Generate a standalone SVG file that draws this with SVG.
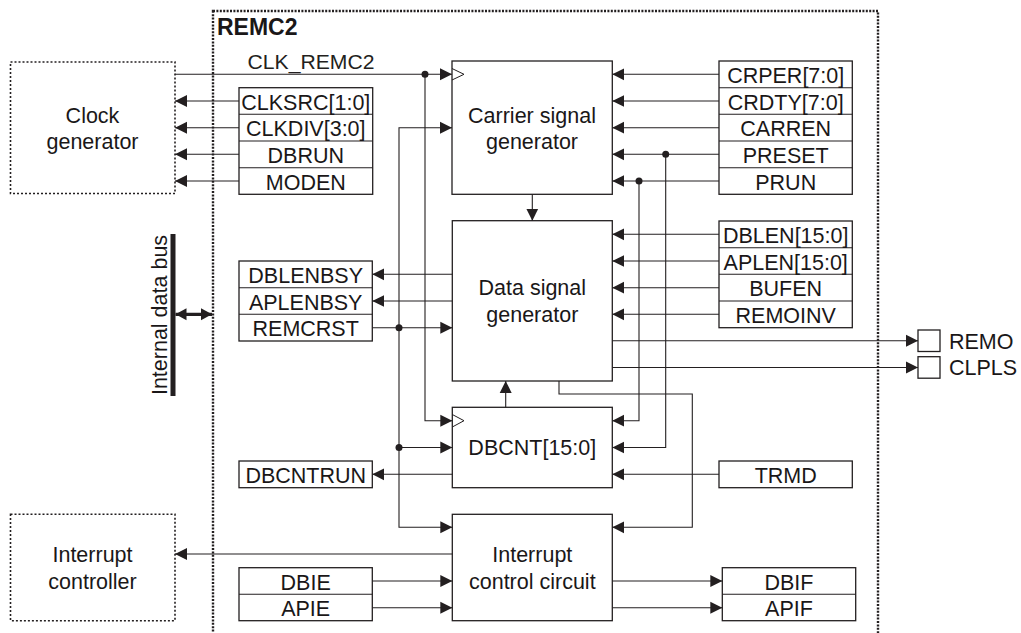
<svg xmlns="http://www.w3.org/2000/svg" width="1021" height="633" viewBox="0 0 1021 633">
<defs>
<style>
.bx{fill:#fff;stroke:#231f20;stroke-width:1.3}
.sep{stroke:#231f20;stroke-width:1.1}
.dot2{fill:none;stroke:#231f20;stroke-width:1.6;stroke-dasharray:2 2}
.dotm{fill:none;stroke:#231f20;stroke-width:2.4;stroke-dasharray:2 1.4}
.t{font-family:"Liberation Sans",Arial,sans-serif;font-size:21.5px;fill:#1a1718;text-anchor:middle}
.ln{fill:none;stroke:#231f20;stroke-width:1.1}
.ar{marker-end:url(#ah)}
.jn{fill:#231f20}
.ck{fill:none;stroke:#231f20;stroke-width:1}
</style>
<marker id="ah" markerUnits="userSpaceOnUse" markerWidth="13" markerHeight="13" refX="12" refY="6" orient="auto" viewBox="0 0 13 12">
<path d="M0,0 L12,6 L0,12 z" fill="#231f20"/>
</marker>
<marker id="ahb" markerUnits="userSpaceOnUse" markerWidth="13" markerHeight="13" refX="11" refY="6" orient="auto-start-reverse" viewBox="0 0 13 12">
<path d="M0,0 L11,6 L0,12 z" fill="#231f20"/>
</marker>
</defs>
<rect width="1021" height="633" fill="#fff"/>

<g id="remc2">
<rect class="dotm" x="213" y="11" width="665" height="650"/>
<text x="217" y="35" style="font-family:'Liberation Sans',Arial,sans-serif;font-size:23px;font-weight:bold;fill:#1a1718">REMC2</text>
</g>

<g id="clock-generator">
<rect class="dot2" x="10.5" y="62" width="164.5" height="131.5"/>
<text class="t" x="92.5" y="123">Clock</text>
<text class="t" x="92.5" y="148.7">generator</text>
</g>

<g id="interrupt-controller">
<rect class="dot2" x="10.5" y="514.3" width="164.5" height="106.4"/>
<text class="t" x="92.5" y="562">Interrupt</text>
<text class="t" x="92.5" y="588.5">controller</text>
</g>

<g id="internal-data-bus">
<rect x="170.5" y="234" width="5" height="162" fill="#231f20"/>
<text class="t" transform="translate(166.5,315) rotate(-90)" x="0" y="0">Internal data bus</text>
</g>

<g id="clk-regs">
<rect class="bx" x="239" y="87.7" width="133.7" height="106.6"/>
<line class="sep" x1="239" y1="114.3" x2="372.7" y2="114.3"/>
<line class="sep" x1="239" y1="141" x2="372.7" y2="141"/>
<line class="sep" x1="239" y1="167.7" x2="372.7" y2="167.7"/>
<text class="t" x="305.8" y="109.5">CLKSRC[1:0]</text>
<text class="t" x="305.8" y="136.2">CLKDIV[3:0]</text>
<text class="t" x="305.8" y="162.8">DBRUN</text>
<text class="t" x="305.8" y="189.5">MODEN</text>
</g>

<g id="carrier-regs">
<rect class="bx" x="719" y="61" width="133.3" height="133.3"/>
<line class="sep" x1="719" y1="87.7" x2="852.3" y2="87.7"/>
<line class="sep" x1="719" y1="114.3" x2="852.3" y2="114.3"/>
<line class="sep" x1="719" y1="141" x2="852.3" y2="141"/>
<line class="sep" x1="719" y1="167.7" x2="852.3" y2="167.7"/>
<text class="t" x="785.7" y="82.8">CRPER[7:0]</text>
<text class="t" x="785.7" y="109.5">CRDTY[7:0]</text>
<text class="t" x="785.7" y="136.2">CARREN</text>
<text class="t" x="785.7" y="162.8">PRESET</text>
<text class="t" x="785.7" y="189.5">PRUN</text>
</g>

<g id="carrier-signal-generator">
<rect class="bx" x="452" y="61" width="160.3" height="133.3"/>
<path class="ck" d="M452,68.5 L464,74.3 L452,80"/>
<text class="t" x="532" y="123">Carrier signal</text>
<text class="t" x="532" y="148.7">generator</text>
</g>

<g id="data-regs">
<rect class="bx" x="719" y="221" width="133.3" height="106.7"/>
<line class="sep" x1="719" y1="247.7" x2="852.3" y2="247.7"/>
<line class="sep" x1="719" y1="274.3" x2="852.3" y2="274.3"/>
<line class="sep" x1="719" y1="301" x2="852.3" y2="301"/>
<text class="t" x="785.7" y="242.8">DBLEN[15:0]</text>
<text class="t" x="785.7" y="269.5">APLEN[15:0]</text>
<text class="t" x="785.7" y="296.2">BUFEN</text>
<text class="t" x="785.7" y="322.8">REMOINV</text>
</g>

<g id="status-regs">
<rect class="bx" x="239" y="261" width="133.3" height="80"/>
<line class="sep" x1="239" y1="287.7" x2="372.3" y2="287.7"/>
<line class="sep" x1="239" y1="314.3" x2="372.3" y2="314.3"/>
<text class="t" x="305.7" y="282.8">DBLENBSY</text>
<text class="t" x="305.7" y="309.5">APLENBSY</text>
<text class="t" x="305.7" y="336.2">REMCRST</text>
</g>

<g id="data-signal-generator">
<rect class="bx" x="452.3" y="220.7" width="160" height="160.3"/>
<text class="t" x="532.3" y="295.3">Data signal</text>
<text class="t" x="532.3" y="321.7">generator</text>
</g>

<g id="remo">
<rect class="bx" x="918" y="330" width="22" height="21.5"/>
<text class="t" x="949" y="348.5" style="text-anchor:start">REMO</text>
</g>
<g id="clpls">
<rect class="bx" x="918" y="356.7" width="22" height="21.5"/>
<text class="t" x="949" y="375.3" style="text-anchor:start">CLPLS</text>
</g>

<g id="dbcnt">
<rect class="bx" x="452.3" y="407.3" width="160" height="80.4"/>
<path class="ck" d="M452.3,414.5 L464,420.7 L452.3,427"/>
<text class="t" x="532.3" y="455.3">DBCNT[15:0]</text>
</g>

<g id="dbcntrun">
<rect class="bx" x="239" y="461" width="133.3" height="26.7"/>
<text class="t" x="305.7" y="482.8">DBCNTRUN</text>
</g>

<g id="trmd">
<rect class="bx" x="719" y="461" width="133.3" height="26.7"/>
<text class="t" x="785.7" y="482.8">TRMD</text>
</g>

<g id="interrupt-control-circuit">
<rect class="bx" x="452.3" y="514.3" width="160" height="106.4"/>
<text class="t" x="532.3" y="562">Interrupt</text>
<text class="t" x="532.3" y="588.5">control circuit</text>
</g>

<g id="ie-regs">
<rect class="bx" x="239" y="567.7" width="133.3" height="53"/>
<line class="sep" x1="239" y1="594.3" x2="372.3" y2="594.3"/>
<text class="t" x="305.7" y="589.5">DBIE</text>
<text class="t" x="305.7" y="616.2">APIE</text>
</g>

<g id="if-regs">
<rect class="bx" x="722.3" y="567.7" width="133.4" height="53"/>
<line class="sep" x1="722.3" y1="594.3" x2="855.7" y2="594.3"/>
<text class="t" x="789" y="589.5">DBIF</text>
<text class="t" x="789" y="616.2">APIF</text>
</g>

<g id="connectors">
<path class="ln ar" d="M175,74.3 H452"/>
<text x="247.5" y="69" textLength="127" lengthAdjust="spacingAndGlyphs" style="font-family:'Liberation Sans',Arial,sans-serif;font-size:19.5px;fill:#231f20">CLK_REMC2</text>
<path class="ln ar" d="M425,74.3 V420.7 H452.3"/>
<path class="ln ar" d="M239,101 H175"/>
<path class="ln ar" d="M239,127.7 H175"/>
<path class="ln ar" d="M239,154.3 H175"/>
<path class="ln ar" d="M239,181 H175"/>
<path class="ln ar" d="M719,74.3 H612.3"/>
<path class="ln ar" d="M719,101 H612.3"/>
<path class="ln ar" d="M719,127.7 H612.3"/>
<path class="ln ar" d="M719,154.3 H612.3"/>
<path class="ln ar" d="M719,181 H612.3"/>
<path class="ln ar" d="M372.3,327.7 H452.3"/>
<path class="ln ar" d="M399,327.7 V127.7 H452"/>
<path class="ln ar" d="M399,327.7 V527.3 H452.3"/>
<path class="ln ar" d="M399,447.5 H452.3"/>
<path class="ln ar" d="M532.3,194.3 V220.7"/>
<path class="ln ar" d="M452.3,274.3 H372.3"/>
<path class="ln ar" d="M452.3,301 H372.3"/>
<path class="ln ar" d="M719,234.3 H612.3"/>
<path class="ln ar" d="M719,261 H612.3"/>
<path class="ln ar" d="M719,287.7 H612.3"/>
<path class="ln ar" d="M719,314.3 H612.3"/>
<path class="ln ar" d="M612.3,340.8 H918"/>
<path class="ln ar" d="M612.3,367.5 H918"/>
<path class="ln ar" d="M639,181 V420.7 H612.3"/>
<path class="ln ar" d="M665.7,154.3 V447.5 H612.3"/>
<path class="ln ar" d="M505.7,407.3 V381"/>
<path class="ln ar" d="M452.3,474.3 H372.3"/>
<path class="ln ar" d="M719,474.3 H612.3"/>
<path class="ln ar" d="M559,381 V394 H692.3 V527.3 H612.3"/>
<path class="ln ar" d="M452.3,554 H175"/>
<path class="ln ar" d="M372.3,581 H452.3"/>
<path class="ln ar" d="M372.3,607.7 H452.3"/>
<path class="ln ar" d="M612.3,581 H722.3"/>
<path class="ln ar" d="M612.3,607.7 H722.3"/>
<path d="M175.5,314.3 H212" fill="none" stroke="#231f20" stroke-width="3.2" marker-start="url(#ahb)" marker-end="url(#ahb)"/>
<circle class="jn" cx="425" cy="74.3" r="3.5"/>
<circle class="jn" cx="399" cy="327.7" r="3.5"/>
<circle class="jn" cx="399" cy="447.5" r="3.5"/>
<circle class="jn" cx="639" cy="181" r="3.5"/>
<circle class="jn" cx="665.7" cy="154.3" r="3.5"/>
</g>
</svg>
